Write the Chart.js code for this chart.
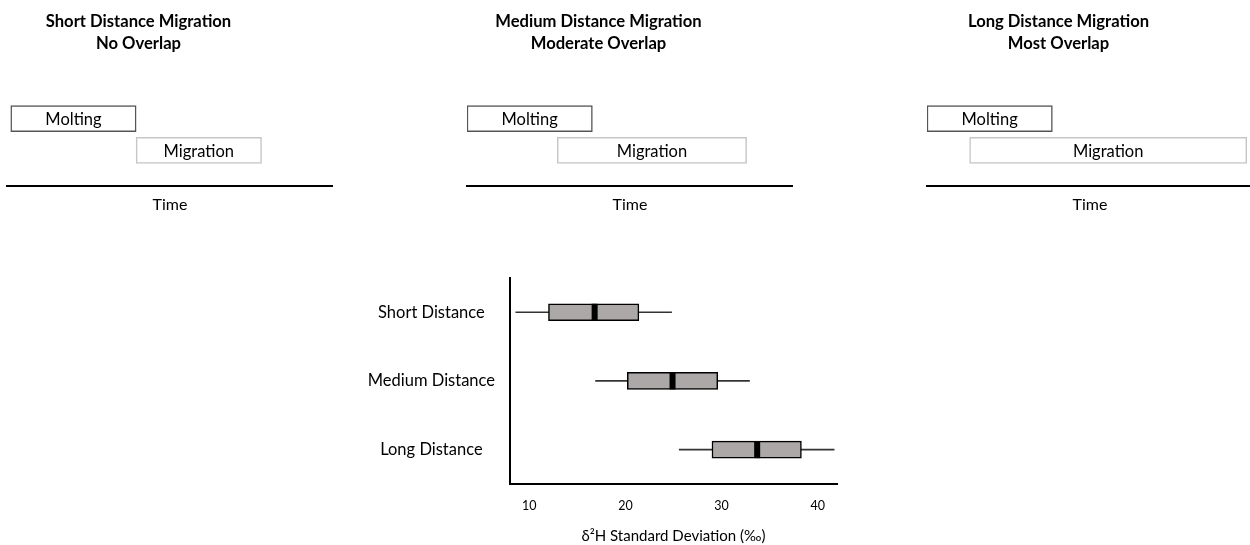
<!DOCTYPE html>
<html lang="en">
<head>
<meta charset="UTF-8">
<title>Molting / migration overlap and δ2H variability</title>
<script src="https://cdn.jsdelivr.net/npm/chart.js"></script>
<style>
  html, body { margin: 0; padding: 0; background: #fff; overflow: hidden; }
  body { width: 1250px; height: 545px; position: relative; font-family: Lato, sans-serif; }
  canvas { position: absolute; }
</style>
</head>
<body>
  <canvas id="panel0" width="389" height="220" style="left:-56px;top:0"></canvas>
  <canvas id="panel1" width="389" height="220" style="left:404px;top:0"></canvas>
  <canvas id="panel2" width="389" height="220" style="left:864px;top:0"></canvas>
  <canvas id="boxChart" width="500" height="296" style="left:350px;top:253px"></canvas>

<script>
// top panels: timing of molting vs migration (arbitrary time units)
const panelTitles = [
  ['Short Distance Migration', 'No Overlap'],
  ['Medium Distance Migration', 'Moderate Overlap'],
  ['Long Distance Migration', 'Most Overlap']
];
const phaseLabels = ['Molting', 'Migration'];
const moltingSpans = [[0.15, 5.15], [0, 5], [0, 5]];
const migrationSpans = [[5.15, 10.15], [3.6, 11.15], [1.7, 12.75]];

// bottom: box plot of d2H standard deviation
const groups = ['Short Distance', 'Medium Distance', 'Long Distance'];
const whiskerLow = [8.6, 16.9, 25.6];
const q1 = [12.0, 20.2, 29.0];
const median = [16.8, 24.9, 33.7];
const q3 = [21.4, 29.6, 38.3];
const whiskerHigh = [24.8, 32.9, 41.7];
const xTickValues = [10, 20, 30, 40];

const FONT = 'Lato';

// writes the phase name in the middle of each bar
const barText = {
  id: 'barText',
  afterDatasetsDraw(chart, args, opts) {
    const ctx = chart.ctx;
    const meta = chart.getDatasetMeta(0);
    ctx.save();
    ctx.font = '16.5px ' + FONT;
    ctx.fillStyle = '#000';
    ctx.textAlign = 'center';
    ctx.textBaseline = 'middle';
    meta.data.forEach((bar, i) => {
      ctx.fillText(opts.labels[i], (bar.x + bar.base) / 2, bar.y + 1);
    });
    ctx.restore();
  }
};

// black median bar inside each box
const medianMarks = {
  id: 'medianMarks',
  afterDatasetsDraw(chart, args, opts) {
    const ctx = chart.ctx;
    const xs = chart.scales.x, ys = chart.scales.y;
    ctx.save();
    ctx.fillStyle = '#000';
    opts.values.forEach((m, i) => {
      const px = xs.getPixelForValue(m);
      const py = ys.getPixelForValue(i);
      ctx.fillRect(px - 3, py - 8.5, 6, 17);
    });
    ctx.restore();
  }
};

function makePanel(i) {
  return new Chart(document.getElementById('panel' + i), {
    type: 'bar',
    data: {
      datasets: [{
        data: [
          { x: moltingSpans[i], y: 0 },
          { x: migrationSpans[i], y: 1 }
        ],
        backgroundColor: '#fff',
        borderColor: ['#555', '#c6c6c6'],
        borderWidth: 1.5,
        borderSkipped: false,
        barThickness: 26
      }]
    },
    options: {
      indexAxis: 'y',
      responsive: false,
      animation: false,
      layout: { padding: 0 },
      plugins: {
        legend: { display: false },
        tooltip: { enabled: false },
        title: {
          display: true,
          text: panelTitles[i],
          color: '#000',
          font: { family: FONT, size: 16.6, weight: 'bold', lineHeight: 22 / 16.6 },
          padding: { top: 11, bottom: 5 }
        },
        barText: { labels: phaseLabels }
      },
      scales: {
        x: {
          type: 'linear',
          min: 0,
          max: 13,
          grid: { display: false, drawTicks: false },
          ticks: { display: false },
          border: { color: '#000', width: 2 },
          title: {
            display: true,
            text: 'Time',
            color: '#000',
            font: { family: FONT, size: 16 },
            padding: { top: 9, bottom: 6 }
          }
        },
        y: {
          type: 'linear',
          reverse: true,
          offset: false,
          min: -1.84,
          max: 2.11,
          grid: { display: false, drawTicks: false },
          ticks: { display: false },
          border: { display: false },
          afterFit: s => { s.width = 63; }
        }
      }
    },
    plugins: [barText]
  });
}

function makeBoxChart() {
  return new Chart(document.getElementById('boxChart'), {
    type: 'bar',
    data: {
      labels: groups,
      datasets: [
        {
          label: 'IQR',
          data: groups.map((g, i) => [q1[i], q3[i]]),
          backgroundColor: '#aca8a8',
          borderColor: '#000',
          borderWidth: 1.5,
          borderSkipped: false,
          barThickness: 17,
          grouped: false,
          order: 1
        },
        {
          label: 'Range',
          data: groups.map((g, i) => [whiskerLow[i], whiskerHigh[i]]),
          backgroundColor: '#333',
          borderWidth: 0,
          barThickness: 1,
          grouped: false,
          order: 2
        }
      ]
    },
    options: {
      indexAxis: 'y',
      responsive: false,
      animation: false,
      layout: { padding: { top: 5, right: 13, left: 0, bottom: 0 } },
      plugins: {
        legend: { display: false },
        tooltip: { enabled: false },
        medianMarks: { values: median }
      },
      scales: {
        x: {
          type: 'linear',
          min: 8,
          max: 42,
          grid: { display: false, drawTicks: false },
          border: { color: '#000', width: 2 },
          afterBuildTicks: s => { s.ticks = xTickValues.map(v => ({ value: v })); },
          ticks: { color: '#000', font: { family: FONT, size: 12.5 }, padding: 14 },
          title: {
            display: true,
            text: 'δ²H Standard Deviation (‰)',
            color: '#000',
            font: { family: FONT, size: 15 },
            padding: { top: 0, bottom: 4 }
          }
        },
        y: {
          grid: { display: false, drawTicks: false },
          border: { color: '#000', width: 2 },
          ticks: { color: '#000', font: { family: FONT, size: 16.5 }, crossAlign: 'center', padding: 15 },
          afterFit: s => { s.width = 160; }
        }
      }
    },
    plugins: [medianMarks]
  });
}

document.fonts.load('16px ' + FONT).finally(() => {
  [0, 1, 2].forEach(makePanel);
  makeBoxChart();
});
</script>
</body>
</html>
